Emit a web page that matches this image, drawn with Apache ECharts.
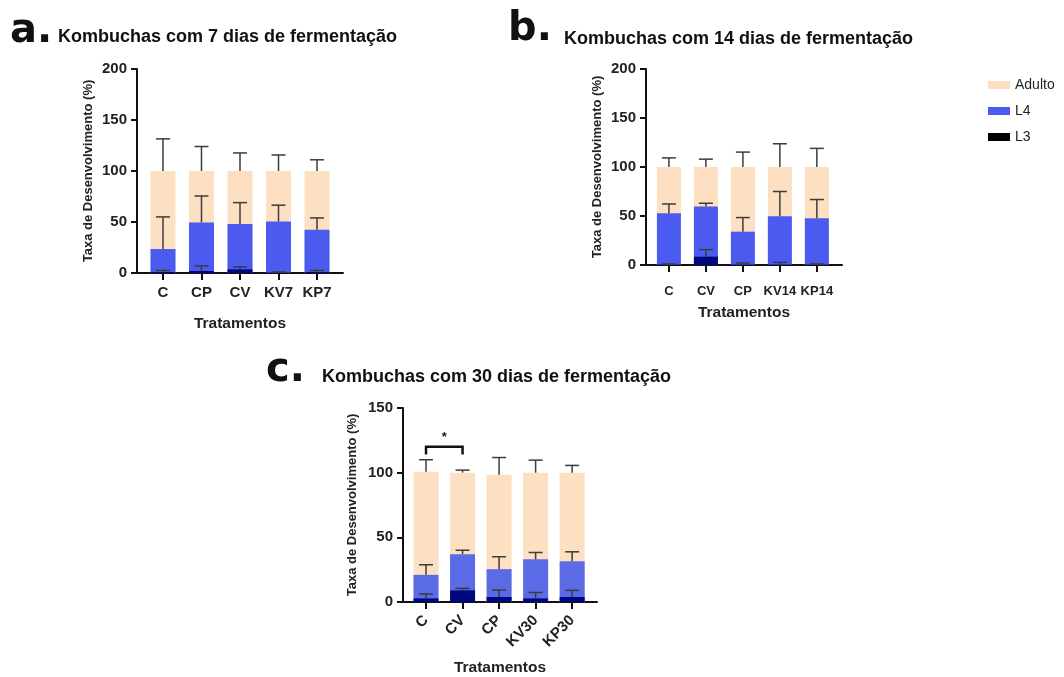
<!DOCTYPE html>
<html>
<head>
<meta charset="utf-8">
<script src="https://cdn.jsdelivr.net/npm/echarts@6/dist/echarts.min.js"></script>
<style>html,body{margin:0;padding:0;background:#fff}#c{width:1064px;height:677px}</style>
</head>
<body>
<div id="c"></div>
<script>
// ---- Panel a: 7 dias ----
const catsA = ['C', 'CP', 'CV', 'KV7', 'KP7'];
const adultoA = [100, 100, 100, 100, 100];
const adultoErrA = [131.5, 124, 117.7, 115.7, 111];
const l4A = [23.5, 49.5, 48, 50.5, 42.5];
const l4ErrA = [55, 75.5, 69, 66.5, 54];
const l3A = [1, 2, 3.6, 0.5, 1];
const l3ErrA = [2.5, 7, 6, 1, 2.5];
// ---- Panel b: 14 dias ----
const catsB = ['C', 'CV', 'CP', 'KV14', 'KP14'];
const adultoB = [100, 100, 100, 100, 100];
const adultoErrB = [109.3, 108, 115.2, 123.7, 119];
const l4B = [52.8, 59.6, 34, 49.7, 47.7];
const l4ErrB = [62.3, 63, 48.4, 75, 66.8];
const l3B = [0.5, 8.5, 0.5, 0.5, 0.5];
const l3ErrB = [1, 15.7, 2, 2.7, 1];
// ---- Panel c: 30 dias ----
const catsC = ['C', 'CV', 'CP', 'KV30', 'KP30'];
const adultoC = [100.7, 100, 98.4, 100, 100];
const adultoErrC = [110, 102, 111.7, 109.7, 105.6];
const l4C = [21, 37, 25.4, 33, 31.6];
const l4ErrC = [28.8, 40, 35, 38.3, 38.8];
const l3C = [2.8, 9, 3.9, 2.8, 3.9];
const l3ErrC = [6.2, 10.5, 9.2, 7.4, 9];
// significance bracket in panel c: [fromIndex, toIndex, legBottom, top, starValue]
const sigC = [[0, 1, 114, 120, 127]];
const yTicksAB = [0, 50, 100, 150, 200];
const yTicksC = [0, 50, 100, 150];

const FONT = 'Liberation Sans';
const cPeach = '#FDDFC1', cBlue = '#4B5BF0', cBlueC = '#5B6BE6', cNavy = '#00087F';

const chart = echarts.init(document.getElementById('c'), null, {renderer: 'canvas'});

function xAxisFor(idx, cats, min, max, labelSize, rotate, margin, nameGap) {
  return {
    gridIndex: idx, type: 'value', min: min, max: max,
    axisLine: {show: true, onZero: false, lineStyle: {color: '#111', width: 2}},
    axisTick: {show: true, customValues: [0, 1, 2, 3, 4], length: 7, lineStyle: {color: '#111', width: 2}},
    axisLabel: {customValues: [0, 1, 2, 3, 4], formatter: v => cats[Math.round(v)] || '',
      fontFamily: FONT, fontWeight: 'bold', fontSize: labelSize, color: '#222', margin: margin, rotate: rotate},
    splitLine: {show: false},
    name: 'Tratamentos', nameLocation: 'middle', nameGap: nameGap,
    nameTextStyle: {fontFamily: FONT, fontWeight: 'bold', fontSize: 15.5, color: '#222'}
  };
}
function yAxisFor(idx, max, ticks, nameGap) {
  return {
    gridIndex: idx, type: 'value', min: 0, max: max, interval: 50,
    axisLine: {show: true, onZero: false, lineStyle: {color: '#111', width: 2}},
    axisTick: {show: true, length: 6, lineStyle: {color: '#111', width: 2}},
    axisLabel: {customValues: ticks, fontFamily: FONT, fontWeight: 'bold', fontSize: 15, color: '#222', margin: 10},
    splitLine: {show: false},
    name: 'Taxa de Desenvolvimento (%)', nameLocation: 'middle', nameGap: nameGap,
    nameTextStyle: {fontFamily: FONT, fontWeight: 'bold', fontSize: 13, color: '#222'}
  };
}
function barSeries(idx, name, vals, color, width) {
  return {
    type: 'bar', name: name, xAxisIndex: idx, yAxisIndex: idx,
    data: vals.map((v, i) => [i, v]), barWidth: width, barGap: '-100%',
    itemStyle: {color: color}, z: 2, silent: true
  };
}
function errRender(params, api) {
  const x = api.value(0), lo = api.value(1), hi = api.value(2);
  const p0 = api.coord([x, lo]), p1 = api.coord([x, hi]);
  const st = {stroke: '#3c3c3c', lineWidth: 1.5};
  return {type: 'group', children: [
    {type: 'line', shape: {x1: p0[0], y1: p0[1], x2: p1[0], y2: p1[1]}, style: st},
    {type: 'line', shape: {x1: p1[0] - 7, y1: p1[1], x2: p1[0] + 7, y2: p1[1]}, style: st}
  ]};
}
function errSeries(idx, vals, errs) {
  return {
    type: 'custom', xAxisIndex: idx, yAxisIndex: idx, renderItem: errRender,
    data: vals.map((v, i) => [i, v, errs[i]]), encode: {x: 0, y: [1, 2]}, z: 5, silent: true
  };
}
function sigRender(params, api) {
  const a = api.value(0), b = api.value(1), lo = api.value(2), hi = api.value(3), s = api.value(4);
  const pA = api.coord([a, lo]), pAt = api.coord([a, hi]), pBt = api.coord([b, hi]), pB = api.coord([b, lo]);
  const ps = api.coord([(a + b) / 2, s]);
  return {type: 'group', children: [
    {type: 'polyline', shape: {points: [pA, pAt, pBt, pB]}, style: {stroke: '#111', lineWidth: 2.5, fill: null}},
    {type: 'text', style: {text: '*', x: ps[0], y: ps[1], align: 'center', verticalAlign: 'middle',
      fontFamily: FONT, fontWeight: 'bold', fontSize: 13, fill: '#222'}}
  ]};
}

const panelTitle = (txt, left, top) => ({text: txt, left: left, top: top,
  textStyle: {fontFamily: FONT, fontWeight: 'bold', fontSize: 18, color: '#111'}});
const panelLetter = (txt, left, top) => ({text: txt, left: left, top: top,
  textStyle: {fontFamily: 'DejaVu Sans', fontWeight: 'bold', fontSize: 40, color: '#111'}});

const option = {
  animation: false,
  backgroundColor: '#fff',
  title: [
    panelLetter('a.', 5, 7), panelTitle('Kombuchas com 7 dias de fermentação', 53, 23),
    panelLetter('b.', 503, 5), panelTitle('Kombuchas com 14 dias de fermentação', 559, 25),
    panelLetter('c.', 261, 346), panelTitle('Kombuchas com 30 dias de fermentação', 317, 363)
  ],
  legend: {
    orient: 'vertical', left: 983, top: 73, itemWidth: 22, itemHeight: 8, itemGap: 12,
    icon: 'rect',
    textStyle: {fontFamily: FONT, fontSize: 14, color: '#222'},
    data: [{name: 'Adulto'}, {name: 'L4'}, {name: 'L3', itemStyle: {color: '#000'}}]
  },
  grid: [
    {left: 137, top: 69, width: 206, height: 204},
    {left: 646, top: 69, width: 196, height: 196},
    {left: 403, top: 408, width: 194, height: 194}
  ],
  xAxis: [
    xAxisFor(0, catsA, -0.675, 4.675, 15, 0, 12, 43),
    xAxisFor(1, catsB, -0.62, 4.68, 13, 0, 20, 40),
    xAxisFor(2, catsC, -0.63, 4.68, 15, 45, 16, 58)
  ],
  yAxis: [
    yAxisFor(0, 200, yTicksAB, 42),
    yAxisFor(1, 200, yTicksAB, 42),
    yAxisFor(2, 150, yTicksC, 44)
  ],
  series: [
    barSeries(0, 'Adulto', adultoA, cPeach, 25), barSeries(0, 'L4', l4A, cBlue, 25), barSeries(0, 'L3', l3A, cNavy, 25),
    errSeries(0, adultoA, adultoErrA), errSeries(0, l4A, l4ErrA), errSeries(0, l3A, l3ErrA),
    barSeries(1, 'Adulto', adultoB, cPeach, 24), barSeries(1, 'L4', l4B, cBlue, 24), barSeries(1, 'L3', l3B, cNavy, 24),
    errSeries(1, adultoB, adultoErrB), errSeries(1, l4B, l4ErrB), errSeries(1, l3B, l3ErrB),
    barSeries(2, 'Adulto', adultoC, cPeach, 25), barSeries(2, 'L4', l4C, cBlueC, 25), barSeries(2, 'L3', l3C, cNavy, 25),
    errSeries(2, adultoC, adultoErrC), errSeries(2, l4C, l4ErrC), errSeries(2, l3C, l3ErrC),
    {type: 'custom', xAxisIndex: 2, yAxisIndex: 2, renderItem: sigRender, data: sigC,
      encode: {x: [0, 1], y: [2, 3]}, z: 6, silent: true}
  ]
};
chart.setOption(option);
</script>
</body>
</html>
